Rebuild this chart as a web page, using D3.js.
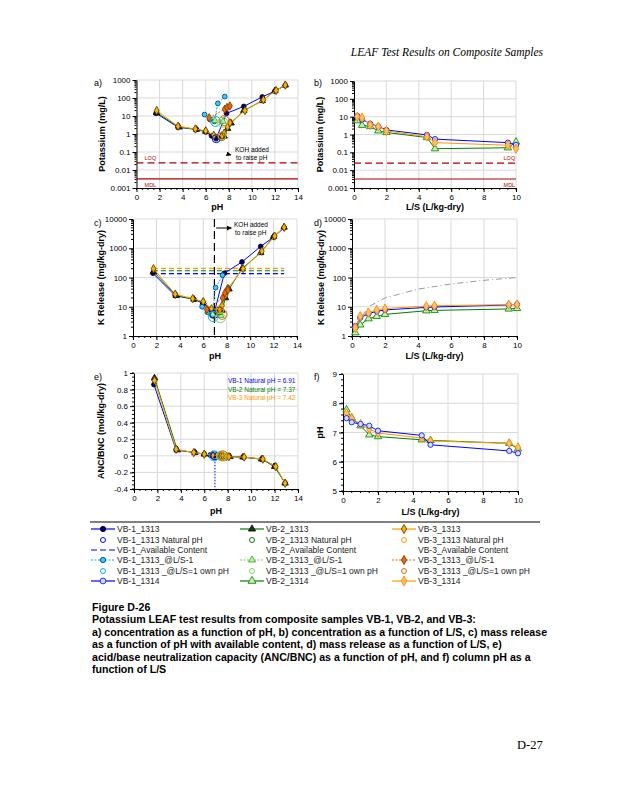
<!DOCTYPE html>
<html><head><meta charset="utf-8">
<script src="https://cdn.jsdelivr.net/npm/d3@7"></script>
<style>body{margin:0;background:#fff}svg{display:block}text{font-family:"Liberation Sans",Arial,sans-serif}</style>
</head><body><svg id="c" width="618" height="800"></svg>
<script>
// ---------------- DATA ----------------
const pHTicks = [0,2,4,6,8,10,12,14];
const lsTicks = [0,2,4,6,8,10];
const concTicks = [0.001,0.01,0.1,1,10,100,1000];
const relTicks = [1,10,100,1000,10000];
const ancTicks = [-0.4,-0.2,0,0.2,0.4,0.6,0.8,1];
const colpHTicks = [5,6,7,8,9];

// Method 1313 (pH dependence)
const vb1_1313_pH   = [1.7, 3.6, 5.2, 6.0, 6.5, 6.9, 7.8, 9.3, 10.9, 12.0, 12.9];
const vb1_1313_conc = [14, 2.4, 1.8, 1.3, 0.8, 0.55, 14, 34, 115, 240, 500];
const vb1_1313_rel  = [140, 24, 18, 13, 8, 5.5, 140, 340, 1150, 2400, 5000];
const vb1_1313_anc  = [0.86, 0.07, 0.04, 0.02, 0.01, 0.0, -0.005, -0.015, -0.04, -0.12, -0.33];

const vb2_1313_pH   = [1.75, 3.7, 5.2, 6.0, 6.7, 7.35, 7.6, 7.9, 8.2, 9.3, 10.9, 12.0, 12.9];
const vb2_1313_conc = [15, 2.4, 1.8, 1.4, 0.8, 0.7, 0.75, 2.0, 4.0, 20, 70, 250, 520];
const vb2_1313_rel  = [160, 24, 18, 14, 8, 7, 7.5, 20, 40, 200, 700, 2500, 5200];
const vb2_1313_anc  = [0.94, 0.07, 0.04, 0.02, 0.01, 0.0, 0.0, -0.005, -0.01, -0.015, -0.04, -0.13, -0.33];

const vb3_1313_pH   = [1.75, 3.6, 5.1, 6.0, 6.7, 7.42, 7.6, 7.9, 8.1, 9.4, 11.0, 12.1, 12.9];
const vb3_1313_conc = [20, 2.7, 1.9, 1.5, 0.85, 0.8, 1.1, 2.5, 4.2, 20, 80, 260, 520];
const vb3_1313_rel  = [200, 27, 19, 15, 8.5, 8, 11, 25, 42, 200, 800, 2600, 5200];
const vb3_1313_anc  = [0.91, 0.08, 0.04, 0.02, 0.01, 0.0, 0.0, -0.005, -0.01, -0.015, -0.04, -0.13, -0.33];

// 1313 at L/S = 1
const vb1_ls1_pH   = [5.9, 6.35, 6.75, 7.05, 7.65];
const vb1_ls1_conc = [12, 6.5, 5.0, 50, 120];
const vb1_ls1_rel  = [10, 6.5, 5.0, 45, 120];
const vb2_ls1_pH   = [6.8, 7.5];
const vb2_ls1_conc = [5.5, 5.0];
const vb2_ls1_rel  = [5.5, 5.0];
const vb3_ls1_pH   = [6.3, 7.65, 7.85, 8.1];
const vb3_ls1_conc = [8, 24, 30, 36];
const vb3_ls1_rel  = [8, 20, 30, 37];

// natural pH and own pH at L/S=1
const nat_pH   = [6.91, 7.37, 7.42];
const nat_conc = [0.55, 0.72, 0.8];
const nat_rel  = [5.5, 7.2, 8.0];
const own_pH   = [6.85, 7.45, 7.6];
const own_conc = [5.0, 4.5, 5.5];
const own_rel  = [4.6, 4.2, 5.5];

// available content (mg/kg-dry)
const availContent = [135, 170, 205];
const availRange = [1.7, 12.9];

// limits (mg/L)
const limitLOQ = 0.025;
const limitMDL = 0.0032;

// Method 1314 (column)
const LS_1314 = [0.2, 0.5, 1.0, 1.5, 2.0, 4.5, 5.0, 9.5, 10.0];
const vb1_1314_conc = [11, 7, 4, 2.8, 1.8, 0.95, 0.55, 0.35, 0.26];
const vb2_1314_conc = [6, 3.3, 2.8, 1.6, 1.3, 0.68, 0.16, 0.18, 0.38];
const vb3_1314_conc = [10, 9, 3.5, 2.8, 1.6, 0.75, 0.35, 0.25, 0.16];
const vb1_1314_rel = [2.2, 4.2, 5.8, 7.0, 7.8, 9.5, 9.8, 11.5, 12];
const vb2_1314_rel = [1.3, 2.4, 3.9, 4.7, 5.5, 7.3, 7.5, 8.4, 8.8];
const vb3_1314_rel = [1.9, 4.8, 6.3, 7.8, 8.7, 10.5, 10.9, 11.8, 12.0];
const vb1_1314_pH = [7.49, 7.35, 7.29, 7.23, 7.06, 6.9, 6.58, 6.37, 6.29];
const vb2_1314_pH = [7.78, 7.5, 7.23, 6.92, 6.86, 6.75, 6.73, 6.63, 6.44];
const vb3_1314_pH = [7.66, 7.49, 7.29, 7.12, 6.98, 6.81, 6.71, 6.63, 6.49];
// gray reference curve in d)
const ref_LS  = [0.2, 1, 2, 4, 6, 8, 10];
const ref_rel = [2, 10, 20, 40, 60, 80, 100];

const naturalText = ["VB-1 Natural pH = 6.91", "VB-2 Natural pH = 7.37", "VB-3 Natural pH = 7.42"];

// ---------------- STYLE ----------------
const C = {blue:"#0000FF", green:"#008000", orange:"#FF9900", cyan:"#00B0F0", lgreen:"#7FD65F", dorange:"#E36C09", red:"#B00000", grid:"#D9D9D9"};

const svg = d3.select("#c");
const defs = svg.append("defs");
defs.append("marker").attr("id","arr").attr("viewBox","0 0 10 10").attr("refX",9).attr("refY",5)
  .attr("markerWidth",5).attr("markerHeight",5).attr("orient","auto")
  .append("path").attr("d","M0,0L10,5L0,10z").attr("fill","#000");

function fmt(v){ return (v<0?"-":"") + d3.format("~g")(Math.abs(v)); }

function panel(o){
  const g = svg.append("g");
  const x = d3.scaleLinear().domain(o.xd).range([o.L,o.R]);
  const y = (o.log?d3.scaleLog():d3.scaleLinear()).domain(o.yd).range([o.B,o.T]);
  // grid
  g.selectAll(".gx").data(o.xt.filter(v=>v!==o.xd[0])).enter().append("line")
    .attr("x1",d=>x(d)).attr("x2",d=>x(d)).attr("y1",o.T).attr("y2",o.B).attr("stroke",C.grid);
  g.selectAll(".gy").data(o.yt.filter(v=>v!==o.yd[0])).enter().append("line")
    .attr("y1",d=>y(d)).attr("y2",d=>y(d)).attr("x1",o.L).attr("x2",o.R).attr("stroke",C.grid);
  // minor ticks
  const xm = d3.range(o.xd[0], o.xd[1]+1e-9, o.xMinor);
  g.selectAll(".mx").data(xm).enter().append("line")
    .attr("x1",d=>x(d)).attr("x2",d=>x(d)).attr("y1",o.B).attr("y2",o.B+2).attr("stroke","#000");
  let ym;
  if(o.log){ ym=[]; for(let e=Math.log10(o.yd[0]); e<Math.log10(o.yd[1]); e++) for(let k=2;k<10;k++) ym.push(k*Math.pow(10,e)); }
  else ym = d3.range(o.yd[0], o.yd[1]+1e-9, o.yMinor);
  g.selectAll(".my").data(ym).enter().append("line")
    .attr("y1",d=>y(d)).attr("y2",d=>y(d)).attr("x1",o.L-2).attr("x2",o.L).attr("stroke","#000");
  // axes
  const ax = g.append("g").attr("transform",`translate(0,${o.B})`)
    .call(d3.axisBottom(x).tickValues(o.xt).tickSize(4).tickSizeOuter(0).tickPadding(2).tickFormat(fmt));
  const ay = g.append("g").attr("transform",`translate(${o.L},0)`)
    .call(d3.axisLeft(y).tickValues(o.yt).tickSize(4).tickSizeOuter(0).tickPadding(2).tickFormat(fmt));
  [ax,ay].forEach(a=>{a.selectAll("text").attr("font-size",8).style("font-family","Liberation Sans, Arial").attr("fill","#000");
    a.select(".domain").attr("stroke","#000"); a.selectAll("line").attr("stroke","#000");});
  // titles
  g.append("text").attr("x",(o.L+o.R)/2).attr("y",o.xTitleY).attr("text-anchor","middle")
    .attr("font-size",9).attr("font-weight","bold").text(o.xTitle);
  g.append("text").attr("transform",`translate(${o.yTitleX},${(o.T+o.B)/2}) rotate(-90)`).attr("text-anchor","middle")
    .attr("font-size",9).attr("font-weight","bold").text(o.yTitle);
  g.append("text").attr("x",o.labX).attr("y",o.labY).attr("font-size",9).text(o.label);
  return {g,x,y,L:o.L,R:o.R,T:o.T,B:o.B};
}

const sym = {circle:d3.symbolCircle, triangle:d3.symbolTriangle, diamond:d3.symbolDiamond};
function series(p, xs, ys, st){
  const pts = xs.map((v,i)=>[v,ys[i]]);
  if(st.line){
    p.g.append("path").datum(pts).attr("fill","none").attr("stroke",st.line).attr("stroke-width",st.lw||1)
      .attr("stroke-dasharray",st.dash||null)
      .attr("d",d3.line().x(d=>p.x(d[0])).y(d=>p.y(d[1])));
  }
  if(st.shape){
    p.g.selectAll(null).data(pts).enter().append("path")
      .attr("transform",d=>`translate(${p.x(d[0])},${p.y(d[1])})`)
      .attr("d",d3.symbol(sym[st.shape], st.size||22))
      .attr("fill",st.fill||"none").attr("stroke",st.stroke).attr("stroke-width",st.sw||0.8);
  }
}

const S = {
  b1313:{line:C.blue, shape:"circle", fill:"#000066", stroke:"#000033", size:18},
  g1313:{line:C.green, shape:"triangle", fill:"#223322", stroke:"#000", size:18},
  o1313:{line:C.orange, shape:"diamond", fill:"#FFB000", stroke:"#4a3000", size:20},
  bls1:{line:C.cyan, dash:"2,1.5", shape:"circle", fill:"#33CCFF", stroke:"#003366", size:18},
  gls1:{line:C.lgreen, dash:"2,1.5", shape:"triangle", fill:"#99FF99", stroke:"#4C9A2A", size:18},
  ols1:{line:C.dorange, dash:"2,1.5", shape:"diamond", fill:C.dorange, stroke:"#7a3000", size:20},
  b1314:{line:C.blue, shape:"circle", fill:"#D0E0FF", stroke:C.blue, size:22},
  g1314:{line:C.green, shape:"triangle", fill:"#C8F0B0", stroke:C.green, size:24},
  o1314:{line:C.orange, shape:"diamond", fill:"#FFC060", stroke:"#FF8000", size:24},
};
const natColors = [C.blue, C.green, C.orange];
const ownColors = [C.cyan, C.lgreen, C.dorange];
function circles(p, xs, ys, cols, r){
  xs.forEach((v,i)=>p.g.append("circle").attr("cx",p.x(v)).attr("cy",p.y(ys[i])).attr("r",r)
    .attr("fill","none").attr("stroke",cols[i]).attr("stroke-width",1));
}

// ---------------- PANEL a ----------------
const pa = panel({L:136.5,R:298,T:80,B:188,xd:[0,14],yd:[0.001,1000],log:true,xt:pHTicks,yt:concTicks,xMinor:0.5,
  xTitle:"pH",xTitleY:210,yTitle:"Potassium (mg/L)",yTitleX:105,label:"a)",labX:94,labY:86});
pa.g.append("line").attr("x1",pa.x(0)).attr("x2",pa.x(14)).attr("y1",pa.y(limitLOQ)).attr("y2",pa.y(limitLOQ))
  .attr("stroke",C.red).attr("stroke-width",1.2).attr("stroke-dasharray","7,4");
pa.g.append("line").attr("x1",pa.x(0)).attr("x2",pa.x(14)).attr("y1",pa.y(limitMDL)).attr("y2",pa.y(limitMDL))
  .attr("stroke",C.red).attr("stroke-width",1.2);
pa.g.append("text").attr("x",pa.x(0.7)).attr("y",pa.y(limitLOQ)-3).attr("font-size",5.5).attr("fill",C.red).text("LOQ");
pa.g.append("text").attr("x",pa.x(0.7)).attr("y",pa.y(limitMDL)+8).attr("font-size",5.5).attr("fill",C.red).text("MDL");
series(pa, vb1_1313_pH, vb1_1313_conc, S.b1313);
series(pa, vb2_1313_pH, vb2_1313_conc, S.g1313);
series(pa, vb3_1313_pH, vb3_1313_conc, S.o1313);
series(pa, vb1_ls1_pH, vb1_ls1_conc, S.bls1);
series(pa, vb2_ls1_pH, vb2_ls1_conc, S.gls1);
series(pa, vb3_ls1_pH, vb3_ls1_conc, S.ols1);
circles(pa, nat_pH, nat_conc, natColors, 4);
circles(pa, own_pH, own_conc, ownColors, 5);
pa.g.append("text").attr("x",235).attr("y",152).attr("font-size",6.5).text("KOH added");
pa.g.append("text").attr("x",236).attr("y",160).attr("font-size",6.5).text("to raise pH");
pa.g.append("line").attr("x1",227).attr("y1",154).attr("x2",231).attr("y2",155).attr("stroke","#000").attr("marker-end","url(#arr)");

// ---------------- PANEL b ----------------
const pb = panel({L:354,R:516,T:81,B:188,xd:[0,10],yd:[0.001,1000],log:true,xt:lsTicks,yt:concTicks,xMinor:0.5,
  xTitle:"L/S (L/kg-dry)",xTitleY:210,yTitle:"Potassium (mg/L)",yTitleX:323,label:"b)",labX:314,labY:86});
pb.g.append("line").attr("x1",pb.x(0)).attr("x2",pb.x(10)).attr("y1",pb.y(limitLOQ)).attr("y2",pb.y(limitLOQ))
  .attr("stroke",C.red).attr("stroke-width",1.2).attr("stroke-dasharray","7,4");
pb.g.append("line").attr("x1",pb.x(0)).attr("x2",pb.x(10)).attr("y1",pb.y(limitMDL)).attr("y2",pb.y(limitMDL))
  .attr("stroke",C.red).attr("stroke-width",1.2);
pb.g.append("text").attr("x",pb.x(9.95)).attr("y",pb.y(limitLOQ)-3).attr("text-anchor","end").attr("font-size",5.5).attr("fill",C.red).text("LOQ");
pb.g.append("text").attr("x",pb.x(9.95)).attr("y",pb.y(limitMDL)+8).attr("text-anchor","end").attr("font-size",5.5).attr("fill",C.red).text("MDL");
series(pb, LS_1314, vb2_1314_conc, S.g1314);
series(pb, LS_1314, vb1_1314_conc, S.b1314);
series(pb, LS_1314, vb3_1314_conc, S.o1314);

// ---------------- PANEL c ----------------
const pc = panel({L:133,R:297,T:219,B:336,xd:[0,14],yd:[1,10000],log:true,xt:pHTicks,yt:relTicks,xMinor:0.5,
  xTitle:"pH",xTitleY:359,yTitle:"K Release (mg/kg-dry)",yTitleX:104,label:"c)",labX:94,labY:226});
[C.blue,C.green,C.orange].forEach((c,i)=>{
  pc.g.append("line").attr("x1",pc.x(availRange[0])).attr("x2",pc.x(availRange[1]))
    .attr("y1",pc.y(availContent[i])).attr("y2",pc.y(availContent[i])).attr("stroke",c).attr("stroke-width",1.2).attr("stroke-dasharray","5,3");
});
pc.g.append("line").attr("x1",pc.x(6.95)).attr("x2",pc.x(6.95)).attr("y1",pc.T).attr("y2",pc.B)
  .attr("stroke","#000").attr("stroke-width",1.2).attr("stroke-dasharray","8,4");
series(pc, vb1_1313_pH, vb1_1313_rel, S.b1313);
series(pc, vb2_1313_pH, vb2_1313_rel, S.g1313);
series(pc, vb3_1313_pH, vb3_1313_rel, S.o1313);
series(pc, vb1_ls1_pH, vb1_ls1_rel, S.bls1);
series(pc, vb2_ls1_pH, vb2_ls1_rel, S.gls1);
series(pc, vb3_ls1_pH, vb3_ls1_rel, S.ols1);
circles(pc, nat_pH, nat_rel, natColors, 4);
circles(pc, own_pH, own_rel, ownColors, 5);
pc.g.append("line").attr("x1",pc.x(7.1)).attr("x2",pc.x(8.4)).attr("y1",228).attr("y2",228).attr("stroke","#000").attr("marker-end","url(#arr)");
pc.g.append("text").attr("x",234).attr("y",227).attr("font-size",6.5).text("KOH added");
pc.g.append("text").attr("x",235).attr("y",235).attr("font-size",6.5).text("to raise pH");

// ---------------- PANEL d ----------------
const pd = panel({L:352,R:517,T:219,B:336,xd:[0,10],yd:[1,10000],log:true,xt:lsTicks,yt:relTicks,xMinor:0.5,
  xTitle:"L/S (L/kg-dry)",xTitleY:359,yTitle:"K Release (mg/kg-dry)",yTitleX:324,label:"d)",labX:314,labY:226});
series(pd, ref_LS, ref_rel, {line:"#999", dash:"6,3,1,3"});
series(pd, LS_1314, vb2_1314_rel, S.g1314);
series(pd, LS_1314, vb1_1314_rel, S.b1314);
series(pd, LS_1314, vb3_1314_rel, S.o1314);

// ---------------- PANEL e ----------------
const pe = panel({L:134,R:298,T:373,B:489,xd:[0,14],yd:[-0.4,1],log:false,xt:pHTicks,yt:ancTicks,xMinor:0.5,yMinor:0.05,
  xTitle:"pH",xTitleY:514,yTitle:"ANC/BNC (mol/kg-dry)",yTitleX:104,label:"e)",labX:94,labY:380});
pe.g.append("line").attr("x1",pe.x(6.91)).attr("x2",pe.x(6.91)).attr("y1",pe.y(0)).attr("y2",pe.B)
  .attr("stroke",C.blue).attr("stroke-dasharray","1.5,1.5");
series(pe, vb1_1313_pH, vb1_1313_anc, S.b1313);
series(pe, vb2_1313_pH, vb2_1313_anc, S.g1313);
series(pe, vb3_1313_pH, vb3_1313_anc, S.o1313);
circles(pe, nat_pH, [0,0,0], natColors, 4);
circles(pe, own_pH, [0,0,0], ownColors, 5);
naturalText.forEach((t,i)=>pe.g.append("text").attr("x",228).attr("y",383+i*8.5).attr("font-size",6.5)
  .attr("fill",[C.blue,C.green,C.orange][i]).text(t));

// ---------------- PANEL f ----------------
const pf = panel({L:343,R:518,T:374,B:491,xd:[0,10],yd:[5,9],log:false,xt:lsTicks,yt:colpHTicks,xMinor:0.5,yMinor:0.2,
  xTitle:"L/S (L/kg-dry)",xTitleY:515,yTitle:"pH",yTitleX:323,label:"f)",labX:314,labY:380});
series(pf, LS_1314, vb2_1314_pH, S.g1314);
series(pf, LS_1314, vb3_1314_pH, S.o1314);
series(pf, LS_1314, vb1_1314_pH, S.b1314);

// ---------------- LEGEND ----------------
const legendNames = [
  ["VB-1_1313","VB-1_1313 Natural pH","VB-1_Available Content","VB-1_1313_@L/S-1","VB-1_1313 _@L/S=1 own pH","VB-1_1314"],
  ["VB-2_1313","VB-2_1313 Natural pH","VB-2_Available Content","VB-2_1313_@L/S-1","VB-2_1313 _@L/S=1 own pH","VB-2_1314"],
  ["VB-3_1313","VB-3_1313 Natural pH","VB-3_Available Content","VB-3_1313_@L/S-1","VB-3_1313 _@L/S=1 own pH","VB-3_1314"]];
const lg = svg.append("g");
lg.append("line").attr("x1",90).attr("x2",540).attr("y1",522).attr("y2",522).attr("stroke","#000");
const colX = [91, 240, 392];
const rowY = [529, 540, 550, 560, 571, 581];
const legStyles = [
  [S.b1313, {circle:C.blue}, {line:C.blue, dash:"6,3"}, S.bls1, {circle:C.cyan}, S.b1314],
  [S.g1313, {circle:C.green}, null, S.gls1, {circle:C.lgreen}, S.g1314],
  [S.o1313, {circle:C.orange}, null, S.ols1, {circle:C.dorange}, S.o1314]];
legendNames.forEach((col,ci)=>col.forEach((name,ri)=>{
  const x0 = colX[ci], yy = rowY[ri], st = legStyles[ci][ri];
  if(st){
    if(st.line) lg.append("line").attr("x1",x0).attr("x2",x0+24).attr("y1",yy).attr("y2",yy)
      .attr("stroke",st.line).attr("stroke-width",1.2).attr("stroke-dasharray",st.dash||null);
    if(st.shape) lg.append("path").attr("transform",`translate(${x0+12},${yy})`)
      .attr("d",d3.symbol(sym[st.shape], (st.size||22)+4)).attr("fill",st.fill).attr("stroke",st.stroke).attr("stroke-width",0.8);
    if(st.circle) lg.append("circle").attr("cx",x0+12).attr("cy",yy).attr("r",2.5).attr("fill","none").attr("stroke",st.circle);
  }
  lg.append("text").attr("x",x0+26).attr("y",yy+3).attr("font-size",8.5).attr("fill","#222").text(name);
}));

// ---------------- TEXT ----------------
svg.append("text").attr("x",543).attr("y",56).attr("text-anchor","end").style("font-family","'Liberation Serif', serif")
  .attr("font-style","italic").attr("font-size",11.5).text("LEAF Test Results on Composite Samples");
const caption = ["Figure D-26",
 "Potassium LEAF test results from composite samples VB-1, VB-2, and VB-3:",
 "a) concentration as a function of pH, b) concentration as a function of L/S, c) mass release",
 "as a function of pH with available content, d) mass release as a function of L/S, e)",
 "acid/base neutralization capacity (ANC/BNC) as a function of pH, and f) column pH as a",
 "function of L/S"];
caption.forEach((t,i)=>svg.append("text").attr("x",92).attr("y",611+i*12.4).attr("font-size",10.6)
  .attr("font-weight","bold").text(t));
svg.append("text").attr("x",517).attr("y",749).style("font-family","'Liberation Serif', serif").attr("font-size",12.5).text("D-27");
</script></body></html>
